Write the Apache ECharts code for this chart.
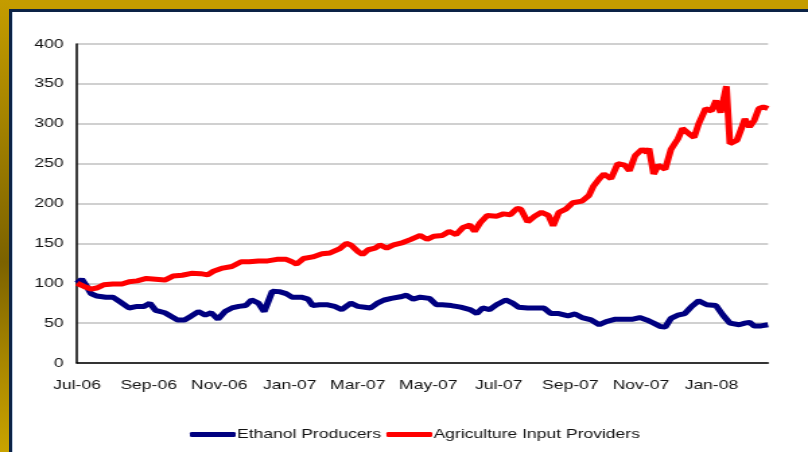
<!DOCTYPE html>
<html>
<head>
<meta charset="utf-8">
<script src="https://cdn.jsdelivr.net/npm/echarts@6/dist/echarts.min.js"></script>
<style>
  html, body { margin: 0; padding: 0; background: #ffffff; }
  #wrap { position: relative; width: 808px; height: 452px; overflow: hidden; background: #ffffff; }
  #chart { position: absolute; left: 0; top: 0; width: 600px; height: 452px; transform: scaleX(1.34667); transform-origin: 0 0; }
  .f { position: absolute; }
  #topGold { left: 0; top: 0; width: 808px; height: 10px; background: #c49c00; }
  #leftGold { left: 0; top: 0; width: 9px; height: 452px;
    background: linear-gradient(to bottom, #c49c00 0%, #a68400 25%, #7c6200 58%, #a88600 80%, #c9a300 100%); }
  #topNavy { left: 9px; top: 9px; width: 799px; height: 3px; background: #0c2346; }
  #leftNavy { left: 9px; top: 9px; width: 3px; height: 443px; background: #0c2346; }
  #leftLight { left: 12px; top: 12px; width: 1px; height: 440px; background: #b9c9dd; }
</style>
</head>
<body>
<div id="wrap">
  <div id="chart"></div>
  <div class="f" id="topGold"></div>
  <div class="f" id="leftGold"></div>
  <div class="f" id="topNavy"></div>
  <div class="f" id="leftNavy"></div>
  <div class="f" id="leftLight"></div>
</div>
<script>
// ---- data ----
const seriesNames = ['Ethanol Producers', 'Agriculture Input Providers'];
const startDate = [2006, 6, 1];           // 1 Jul 2006 (month is 0-based); x values are days after this
const endDayOffset = 598;                 // last day shown
const tickLabels = ['Jul-06', 'Sep-06', 'Nov-06', 'Jan-07', 'Mar-07', 'May-07', 'Jul-07', 'Sep-07', 'Nov-07', 'Jan-08'];
const tickMonths = [[2006, 6], [2006, 8], [2006, 10], [2007, 0], [2007, 2], [2007, 4], [2007, 6], [2007, 8], [2007, 10], [2008, 0]];
const yTicks = [0, 50, 100, 150, 200, 250, 300, 350, 400];

const ethanolDays = [0, 4, 8, 12, 17, 25, 31, 37, 45, 52, 58, 63, 68, 76, 82, 87, 93, 99, 105, 111, 116, 122, 128, 134, 140, 146, 151, 157, 162, 169, 175, 181, 186, 194, 200, 204, 210, 217, 223, 229, 237, 243, 249, 254, 260, 266, 272, 280, 285, 291, 297, 305, 311, 316, 324, 332, 340, 346, 351, 357, 363, 371, 377, 382, 390, 398, 404, 410, 417, 425, 431, 437, 445, 452, 458, 466, 474, 481, 487, 493, 499, 505, 509, 514, 520, 526, 532, 538, 540, 545, 553, 559, 565, 573, 578, 582, 586, 592, 598];
const ethanolValues = [100, 105, 97, 87, 84, 82.5, 82.5, 77, 69, 71, 71, 75, 66, 63, 58, 54, 54, 59, 64.5, 60, 63, 55, 64.5, 69, 71, 72, 79, 75, 64.5, 90, 89.5, 87, 82.5, 82.5, 80, 72, 73, 73, 71, 67, 75, 71, 70, 69, 75, 79, 81, 83, 85, 80, 82.5, 81, 73, 73, 72, 70, 67, 62, 69, 67, 73, 79, 75, 70, 69, 69, 69, 62, 62, 59, 61.5, 57, 54, 48, 52, 55, 55, 55, 57, 54, 50, 45.6, 45, 56, 60, 62, 71, 78, 80, 73, 72, 60, 50, 48, 50, 51, 46.5, 46.5, 48];

const agriDays = [0, 6, 12, 17, 23, 31, 39, 45, 52, 60, 68, 76, 83, 91, 99, 107, 113, 118, 126, 134, 142, 149, 157, 165, 173, 181, 186, 190, 196, 204, 212, 219, 227, 233, 237, 243, 247, 252, 258, 262, 268, 274, 282, 289, 297, 303, 309, 316, 322, 328, 334, 340, 344, 349, 355, 363, 369, 375, 381, 384, 390, 396, 402, 408, 412, 417, 423, 429, 437, 443, 447, 452, 456, 462, 468, 474, 478, 483, 489, 493, 495, 499, 503, 509, 514, 520, 524, 530, 534, 538, 544, 549, 553, 557, 562, 565, 571, 575, 578, 582, 586, 590, 594, 598];
const agriValues = [100, 96, 92.7, 94, 98, 99, 99, 102, 103, 106, 105, 104, 109, 110, 112.5, 112, 110.5, 115, 119, 121, 127, 127, 128, 128, 130, 130, 127, 124, 131, 133, 137, 138, 143, 150, 148, 140, 136, 142, 144, 148, 144, 148, 151, 155, 160, 155, 159, 160, 165, 161, 170, 173, 165, 176, 185, 184, 187, 186, 194, 193, 177, 184, 189, 185, 172, 189, 193, 201, 203, 210, 222, 231, 237, 231, 250, 248, 241, 260, 268, 264, 269, 237, 248, 243, 268, 281, 294, 287, 283, 300, 319, 316, 329, 314, 347, 275, 279, 294, 306, 296, 304, 319, 321, 319];

// ---- build ----
const startTime = Date.UTC(startDate[0], startDate[1], startDate[2]);
const tickDays = tickMonths.map(m => Math.round((Date.UTC(m[0], m[1], 1) - startTime) / 86400000));
function pairs(days, vals) { return days.map((d, i) => [d, vals[i]]); }

const chart = echarts.init(document.getElementById('chart'));
const font = '"Liberation Sans", Arial, sans-serif';
chart.setOption({
  animation: false,
  backgroundColor: '#ffffff',
  grid: { left: 57.2, right: 29.7, top: 44, bottom: 89 },
  legend: {
    left: 141, top: 428, padding: 0,
    itemWidth: 34, itemHeight: 5, itemGap: 4,
    icon: 'roundRect',
    textStyle: { fontFamily: font, fontSize: 13, color: '#111', padding: [0, 0, 0, -4] },
    data: seriesNames
  },
  xAxis: {
    type: 'value',
    min: 0,
    max: endDayOffset,
    axisLine: { show: true, lineStyle: { color: '#000', width: 1.5 } },
    axisTick: { show: false, customValues: tickDays },
    splitLine: { show: false },
    axisLabel: {
      customValues: tickDays,
      margin: 16,
      fontFamily: font, fontSize: 13, color: '#111',
      showMinLabel: true, showMaxLabel: true,
      formatter: function (v) {
        const i = tickDays.indexOf(Math.round(v));
        return i >= 0 ? tickLabels[i] : '';
      }
    }
  },
  yAxis: {
    type: 'value',
    min: yTicks[0], max: yTicks[yTicks.length - 1], interval: 50,
    axisLine: { show: true, lineStyle: { color: '#000', width: 1.5 } },
    axisTick: { show: false },
    splitLine: { show: true, lineStyle: { color: '#d0d0d0', width: 2 } },
    axisLabel: { margin: 10, fontFamily: font, fontSize: 13, color: '#111' }
  },
  series: [
    {
      name: seriesNames[0], type: 'line', showSymbol: false, symbol: 'none',
      data: pairs(ethanolDays, ethanolValues),
      lineStyle: { color: '#000080', width: 5 },
      itemStyle: { color: '#000080' }
    },
    {
      name: seriesNames[1], type: 'line', showSymbol: false, symbol: 'none',
      data: pairs(agriDays, agriValues),
      lineStyle: { color: '#ff0000', width: 5 },
      itemStyle: { color: '#ff0000' }
    }
  ]
});
</script>
</body>
</html>
